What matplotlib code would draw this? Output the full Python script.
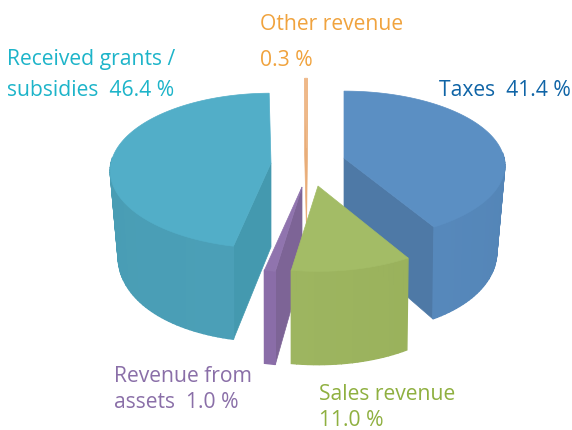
import numpy as np
import matplotlib
matplotlib.use('Agg')
import matplotlib.pyplot as plt
from matplotlib.colors import to_rgb
from matplotlib.patches import Polygon

categories = ['Taxes', 'Sales revenue', 'Revenue from assets', 'Received grants / subsidies', 'Other revenue']
values = [41.4, 11.0, 1.0, 46.4, 0.3]

# style per slice: apex position in pixels, squash, top, side (2 tones), cut face
apex = [(344, 158), (318, 186), (302, 187), (271, 163), (306.5, 148)]
squash = [0.46, 0.48, 0.48, 0.48, 0.48]
top_col = ['#5b8fc3', '#a3bc66', '#9074ae', '#52aec8', '#efb888']
side_col = [('#4f7fae', '#5688bb'), ('#9ab25c', '#9db560'), ('#8a6da8', '#8a6da8'), ('#4b9fb7', '#469ab1'), ('#efb888', '#efb888')]
cut_col = ['#4e79a6', '#9ab25c', '#7d6496', '#4499af', '#e9ad78']
draw_order = [4, 0, 3, 2, 1]

R = 160.
persp = 0.10    # near side bigger than far side
H = 84.         # height of the slices
shrink = 0.05   # bottom rim a bit narrower at the sides


def project(i, th, r=1., drop=False):
    c = apex[i]
    u = r*np.sin(th)
    v = r*np.cos(th)
    w = 1./(1. + persp*v)
    if drop:
        return c[0] + R*u*w*(1 - shrink*u*u), c[1] - R*squash[i]*v*w + H*w
    return c[0] + R*u*w, c[1] - R*squash[i]*v*w


def blend(a, b, t):
    return tuple((1-t)*np.array(to_rgb(a)) + t*np.array(to_rgb(b)))


fig = plt.figure(figsize=(5.72, 4.30), dpi=100)
ax = fig.add_axes([0, 0, 1, 1])
ax.set_xlim(0, 572)
ax.set_ylim(430, 0)
ax.axis('off')

edges = np.cumsum([0.] + values)/100.*2*np.pi

for i in draw_order:
    th0, th1 = edges[i], edges[i+1]
    ths = np.linspace(th0, th1, max(int((th1-th0)/0.03), 2))

    # cut faces turned towards the viewer
    for th, vis in ((th0, np.sin(th0) < 0), (th1, np.sin(th1) > 0)):
        if vis:
            a = project(i, th, 0.)
            b = project(i, th)
            d = project(i, th, drop=True)
            e = project(i, th, 0., drop=True)
            ax.add_patch(Polygon([a, b, d, e], fc=cut_col[i], ec=cut_col[i], lw=0.5))

    # outer wall, thin strips
    for j in range(len(ths)-1):
        if np.cos(ths[j]) > 0.05 and np.cos(ths[j+1]) > 0.05:
            continue
        t = j/max(len(ths)-2, 1)
        col = blend(side_col[i][0], side_col[i][1], t)
        pts = [project(i, ths[j]), project(i, ths[j+1]),
               project(i, ths[j+1], drop=True), project(i, ths[j], drop=True)]
        ax.add_patch(Polygon(pts, fc=col, ec=col, lw=1.0))

    # top face
    pts = [project(i, th0, 0.)] + [project(i, th) for th in ths]
    ax.add_patch(Polygon(pts, fc=top_col[i], ec=top_col[i], lw=0.5))

font = 'Open Sans'
fs = 15.2
ax.text(7, 60, 'Received grants /', color='#1db4c9', fontsize=fs, family=font, va='center')
ax.text(7, 90, 'subsidies  46.4 %', color='#1db4c9', fontsize=fs, family=font, va='center')
ax.text(260, 24, 'Other revenue', color='#f0a33e', fontsize=fs, family=font, va='center')
ax.text(260, 60, '0.3 %', color='#f0a33e', fontsize=fs, family=font, va='center')
ax.text(439, 90, 'Taxes  41.4 %', color='#0f64a6', fontsize=fs, family=font, va='center')
ax.text(114, 376, 'Revenue from', color='#8a6fa8', fontsize=fs, family=font, va='center')
ax.text(114, 403, 'assets  1.0 %', color='#8a6fa8', fontsize=fs, family=font, va='center')
ax.text(319, 394, 'Sales revenue', color='#8fb040', fontsize=fs, family=font, va='center')
ax.text(319, 420, '11.0 %', color='#8fb040', fontsize=fs, family=font, va='center')

fig.savefig('out.png', dpi=100)
